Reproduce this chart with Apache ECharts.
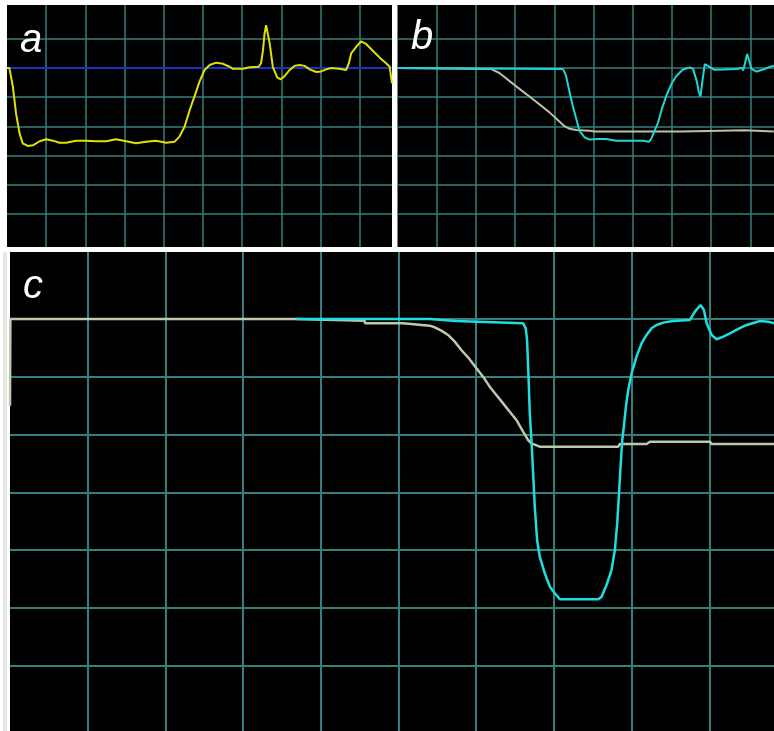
<!DOCTYPE html>
<html>
<head>
<meta charset="utf-8">
<script src="https://cdn.jsdelivr.net/npm/echarts@6/dist/echarts.min.js"></script>
<style>
html,body{margin:0;padding:0;background:#fff;}
#chart{width:774px;height:731px;}
</style>
</head>
<body>
<div id="chart"></div>
<script>
// Panel labels
const panelLabels = ['a', 'b', 'c'];

// Horizontal extent of each panel, in grid divisions
const panelXMax = [9.82, 9.605, 9.833];
// Vertical range of each panel, in grid divisions
const levelMin = -1;
const levelMax = 7;

// Panel a: yellow trace and blue reference line  [division, level]
const traceAYellow = [
  [0, 5.0], [0.06, 5.0], [0.15, 4.36], [0.23, 3.45], [0.32, 2.76], [0.40, 2.42], [0.53, 2.33],
  [0.66, 2.35], [0.83, 2.49], [1.0, 2.56], [1.17, 2.51], [1.34, 2.44], [1.51, 2.44], [1.76, 2.51],
  [2.02, 2.51], [2.27, 2.49], [2.53, 2.49], [2.78, 2.56], [3.04, 2.49], [3.29, 2.42], [3.55, 2.47],
  [3.80, 2.51], [4.06, 2.44], [4.27, 2.47], [4.40, 2.65], [4.53, 2.99], [4.66, 3.56], [4.78, 4.02],
  [4.91, 4.53], [5.04, 4.93], [5.17, 5.10], [5.34, 5.18], [5.51, 5.14], [5.68, 5.04], [5.76, 4.97],
  [6.02, 4.97], [6.19, 5.02], [6.42, 5.04], [6.48, 5.16], [6.53, 5.61], [6.57, 6.18], [6.61, 6.46],
  [6.65, 6.41], [6.70, 5.84], [6.78, 5.04], [6.89, 4.68], [6.98, 4.61], [7.08, 4.72], [7.21, 4.93],
  [7.33, 5.07], [7.46, 5.10], [7.59, 5.07], [7.72, 4.95], [7.89, 4.86], [8.01, 4.88], [8.14, 4.95],
  [8.27, 5.0], [8.48, 4.97], [8.65, 4.93], [8.72, 5.16], [8.78, 5.50], [8.91, 5.73], [9.03, 5.91],
  [9.16, 5.82], [9.33, 5.59], [9.50, 5.36], [9.67, 5.16], [9.76, 5.04], [9.82, 4.47]
];
const traceARef = [[0, 5.0], [9.82, 5.0]];

// Panel b: cyan and grey traces
const traceBCyan = [
  [0, 5.0], [4.22, 4.97], [4.30, 4.74], [4.39, 4.17], [4.47, 3.72], [4.56, 3.26], [4.64, 2.86],
  [4.77, 2.63], [4.90, 2.55], [5.11, 2.57], [5.32, 2.57], [5.58, 2.51], [5.92, 2.51], [6.26, 2.51],
  [6.42, 2.48], [6.47, 2.57], [6.56, 2.86], [6.65, 3.14], [6.73, 3.54], [6.86, 4.06], [6.99, 4.46],
  [7.11, 4.72], [7.28, 4.95], [7.46, 5.02], [7.54, 4.97], [7.63, 4.57], [7.69, 4.17], [7.73, 4.03],
  [7.78, 4.57], [7.84, 5.13], [7.97, 5.03], [8.09, 4.94], [8.31, 4.95], [8.65, 4.97], [8.78, 5.0],
  [8.82, 4.92], [8.86, 5.14], [8.92, 5.48], [8.97, 5.26], [9.03, 4.97], [9.16, 4.88], [9.33, 4.95],
  [9.50, 5.04], [9.60, 5.08]
];
const traceBGray = [
  [0, 5.0], [2.38, 4.97], [2.60, 4.83], [3.02, 4.38], [3.45, 3.94], [3.87, 3.49], [4.13, 3.17],
  [4.26, 3.01], [4.39, 2.92], [4.56, 2.88], [4.90, 2.85], [5.03, 2.83], [7.27, 2.83], [7.28, 2.87],
  [8.86, 2.87], [8.90, 2.83], [9.60, 2.83]
];

// Panel c: cyan and grey traces (zoomed view)
const traceCCyan = [
  [3.684, 6.0], [5.402, 6.0], [5.41, 5.966], [5.737, 5.966], [5.745, 5.943], [6.604, 5.925],
  [6.638, 5.839], [6.655, 5.637], [6.672, 5.059], [6.690, 4.367], [6.711, 3.906], [6.733, 3.328],
  [6.754, 2.752], [6.784, 2.175], [6.818, 1.887], [6.883, 1.599], [6.948, 1.368], [7.012, 1.253],
  [7.077, 1.149], [7.571, 1.149], [7.614, 1.195], [7.678, 1.397], [7.742, 1.656], [7.785, 2.002],
  [7.815, 2.463], [7.841, 3.040], [7.858, 3.444], [7.880, 3.906], [7.901, 4.136], [7.927, 4.482],
  [7.957, 4.771], [8.000, 5.059], [8.064, 5.348], [8.128, 5.579], [8.193, 5.724], [8.257, 5.839],
  [8.322, 5.896], [8.408, 5.937], [8.537, 5.966], [8.751, 5.983], [8.815, 6.127], [8.888, 6.243],
  [8.931, 6.156], [8.966, 5.925], [9.030, 5.724], [9.095, 5.649], [9.180, 5.695], [9.266, 5.752],
  [9.374, 5.827], [9.481, 5.896], [9.653, 5.966], [9.760, 5.954], [9.833, 5.925]
];
const traceCGray = [
  [0, 4.50], [0.005, 6.0], [3.684, 6.0], [3.69, 5.971], [4.564, 5.971], [4.57, 5.926], [5.058, 5.926],
  [5.065, 5.896], [5.402, 5.885], [5.466, 5.856], [5.552, 5.798], [5.638, 5.724], [5.724, 5.608],
  [5.809, 5.463], [5.895, 5.336], [6.003, 5.146], [6.088, 5.002], [6.174, 4.829], [6.260, 4.684],
  [6.346, 4.540], [6.432, 4.396], [6.518, 4.252], [6.604, 4.050], [6.668, 3.906], [6.711, 3.848],
  [6.818, 3.790], [7.828, 3.790], [7.850, 3.836], [8.193, 3.836], [8.236, 3.877], [9.009, 3.877],
  [9.030, 3.836], [9.833, 3.836]
];

// ---- layout / style ----
const GRID_COLOR = '#357f7f';
const panels = [
  { outer: {left: 7, top: 5, width: 385, height: 242}, inner: {top: 9.5, height: 233.7}, gw: 1.5 },
  { outer: {left: 397.5, top: 5, width: 376.5, height: 242}, inner: {top: 9.6, height: 233.7}, gw: 1.5 },
  { outer: {left: 10, top: 252, width: 764, height: 479}, inner: {top: 261.2, height: 462.3}, gw: 2 }
];

const grids = [], xAxes = [], yAxes = [];
panels.forEach((p, i) => {
  grids.push({ left: p.outer.left, top: p.outer.top, width: p.outer.width, height: p.outer.height,
    show: true, backgroundColor: '#000', borderWidth: 0, containLabel: false });
  grids.push({ left: p.outer.left, top: p.inner.top, width: p.outer.width, height: p.inner.height,
    show: false, containLabel: false });
  const outerIdx = i * 2, innerIdx = i * 2 + 1;
  xAxes.push({ type: 'value', gridIndex: outerIdx, min: 0, max: panelXMax[i], interval: 1,
    axisLine: {show: false}, axisTick: {show: false}, axisLabel: {show: false},
    splitLine: {show: true, showMinLine: false, showMaxLine: false, lineStyle: {color: GRID_COLOR, width: p.gw}} });
  xAxes.push({ type: 'value', gridIndex: innerIdx, min: 0, max: panelXMax[i], show: false });
  yAxes.push({ type: 'value', gridIndex: outerIdx, min: 0, max: 1, show: false });
  yAxes.push({ type: 'value', gridIndex: innerIdx, min: levelMin, max: levelMax, interval: 1,
    axisLine: {show: false}, axisTick: {show: false}, axisLabel: {show: false},
    splitLine: {show: true, showMinLine: false, showMaxLine: false, lineStyle: {color: GRID_COLOR, width: p.gw}} });
});

function trace(data, axisIdx, color, width, z) {
  return { type: 'line', data: data, xAxisIndex: axisIdx, yAxisIndex: axisIdx,
    showSymbol: false, symbol: 'none', smooth: false, silent: true, z: z,
    lineStyle: {color: color, width: width}, animation: false };
}

const series = [
  trace(traceARef, 1, '#1433c8', 2, 2),
  trace(traceAYellow, 1, '#e2e200', 2, 3),
  trace(traceBGray, 3, '#b9c2a6', 2, 2),
  trace(traceBCyan, 3, '#1fd6d6', 2, 3),
  trace(traceCGray, 5, '#bfc8ad', 2.5, 2),
  trace(traceCCyan, 5, '#1fdede', 2.5, 3)
];

const labelPos = [[20, 43], [411, 40], [23, 289]];
const graphics = panelLabels.map((t, i) => ({
  type: 'text', left: labelPos[i][0], top: labelPos[i][1] - 22, z: 10,
  style: { text: t, fill: '#fff', font: "italic 40px 'Liberation Sans', Arial, sans-serif" }
}));
graphics.push({ type: 'rect', shape: {x: 3, y: 252, width: 4, height: 479}, style: {fill: '#e6e6e6'}, z: 1 });

const chart = echarts.init(document.getElementById('chart'), null, {renderer: 'canvas'});
chart.setOption({
  backgroundColor: '#ffffff',
  animation: false,
  grid: grids,
  xAxis: xAxes,
  yAxis: yAxes,
  series: series,
  graphic: graphics
});
</script>
</body>
</html>
